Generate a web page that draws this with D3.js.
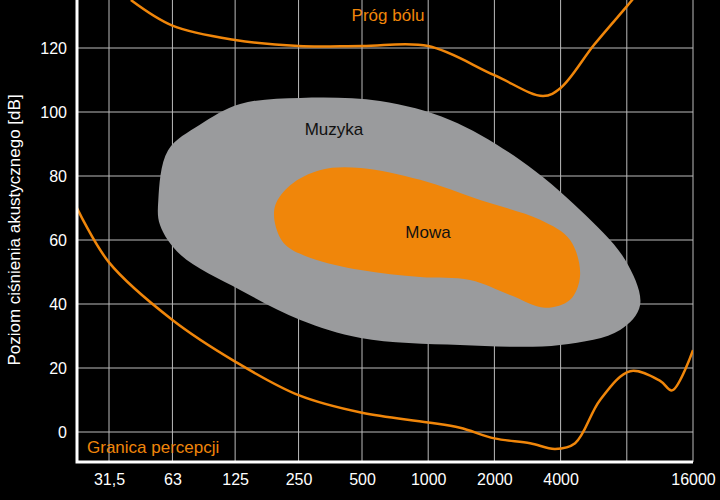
<!DOCTYPE html>
<html>
<head>
<script src="https://cdnjs.cloudflare.com/ajax/libs/d3/7.8.5/d3.min.js"></script>
<style>body{margin:0;background:#000;}</style>
</head>
<body>
<script>
const freqTicks = [31.5, 63, 125, 250, 500, 1000, 2000, 4000, 8000, 16000];
const freqLabels = ["31,5", "63", "125", "250", "500", "1000", "2000", "4000", "", "16000"];
const dbTicks = [0, 20, 40, 60, 80, 100, 120];

const painF = [40, 63, 125, 250, 500, 1000, 2000, 3330, 4000, 5680, 8000, 8700];
const painDb = [135, 127, 122.5, 120.6, 120.6, 120.6, 111.5, 105, 107.5, 121, 133, 136];
const percF = [22.2, 31.5, 63, 125, 250, 500, 1000, 1396, 2000, 2907, 3775, 4656, 6048, 8280, 11340, 12850, 16000];
const percDb = [70, 53, 35, 22, 11.5, 6, 3, 1.3, -2, -3.5, -5.3, -3.5, 10, 19, 16, 13, 25.6];
const musicF = [55, 54, 60, 85, 132, 255, 604, 1257, 2618, 4905, 7860, 9195, 7456, 3979, 1396, 493, 255, 132, 69];
const musicDb = [64.7, 72.5, 88, 96, 102.5, 104.4, 103.4, 97.5, 85, 69.4, 53.8, 39.7, 31.9, 27.2, 27.2, 29.4, 35, 44.4, 55.3];
const speechF = [194, 194, 229, 318, 493, 919, 1721, 3228, 4418, 4905, 4418, 3400, 2358, 1550, 919, 493, 285, 217];
const speechDb = [64.7, 70.9, 77.2, 81.9, 82.5, 78.8, 72.5, 66.3, 60, 49, 41.3, 38.8, 42.8, 47.5, 48.4, 50.6, 54.4, 58.4];

const W = 720, H = 500, L = 77, B = 462, R = 693;
const orange = "#f0860a";
const svg = d3.select("body").append("svg").attr("width", W).attr("height", H)
  .style("font-family", "Liberation Sans, Arial, sans-serif");
svg.append("rect").attr("width", W).attr("height", H).attr("fill", "#000");

const x = d3.scaleLog().domain([31.5, 500, 16000]).range([109, 362, 693]);
const y = d3.scaleLinear().domain([-9.375, 135]).range([B, 0]);

svg.append("clipPath").attr("id", "clip").append("rect")
  .attr("x", L).attr("y", 0).attr("width", R - L).attr("height", B);

// grid
svg.append("g").selectAll("line").data(freqTicks).join("line")
  .attr("x1", d => x(d)).attr("x2", d => x(d)).attr("y1", 0).attr("y2", B)
  .attr("stroke", "#bbb").attr("stroke-width", 1);
svg.append("g").selectAll("line").data(dbTicks).join("line")
  .attr("x1", L).attr("x2", R).attr("y1", d => y(d)).attr("y2", d => y(d))
  .attr("stroke", "#bbb").attr("stroke-width", 1);

const plot = svg.append("g").attr("clip-path", "url(#clip)");
const closed = d3.line().x(d => x(d[0])).y(d => y(d[1])).curve(d3.curveCatmullRomClosed);
const open = d3.line().x(d => x(d[0])).y(d => y(d[1])).curve(d3.curveCatmullRom);

plot.append("path").attr("d", closed(d3.zip(musicF, musicDb))).attr("fill", "#9a9b9d");
plot.append("path").attr("d", closed(d3.zip(speechF, speechDb))).attr("fill", orange);
plot.append("path").attr("d", open(d3.zip(painF, painDb))).attr("fill", "none").attr("stroke", orange).attr("stroke-width", 2.5);
plot.append("path").attr("d", open(d3.zip(percF, percDb))).attr("fill", "none").attr("stroke", orange).attr("stroke-width", 2.5);

// axes
const xAxis = d3.axisBottom(x).tickValues(freqTicks).tickFormat((d, i) => freqLabels[i]).tickSize(0).tickPadding(12);
const gx = svg.append("g").attr("transform", `translate(0,${B})`).call(xAxis);
const yAxis = d3.axisLeft(y).tickValues(dbTicks).tickSize(0).tickPadding(10);
const gy = svg.append("g").attr("transform", `translate(${L},0)`).call(yAxis);
[gx, gy].forEach(g => {
  g.select(".domain").remove();
  g.selectAll("text").attr("fill", "#fff").style("font-size", "16px");
});
svg.append("path").attr("d", `M${L},0V${B}H${R}`).attr("fill", "none").attr("stroke", "#fff").attr("stroke-width", 3);

// labels
svg.append("text").attr("transform", "translate(20,230) rotate(-90)").attr("text-anchor", "middle")
  .attr("fill", "#fff").style("font-size", "17px").text("Poziom ciśnienia akustycznego [dB]");
svg.append("text").attr("x", 388).attr("y", 21).attr("text-anchor", "middle").attr("fill", orange)
  .style("font-size", "17px").text("Próg bólu");
svg.append("text").attr("x", 87).attr("y", 453).attr("fill", orange).style("font-size", "17px").text("Granica percepcji");
svg.append("text").attr("x", 334).attr("y", 135).attr("text-anchor", "middle").attr("fill", "#111")
  .style("font-size", "17px").text("Muzyka");
svg.append("text").attr("x", 428).attr("y", 238).attr("text-anchor", "middle").attr("fill", "#111")
  .style("font-size", "17px").text("Mowa");
</script>
</body>
</html>
